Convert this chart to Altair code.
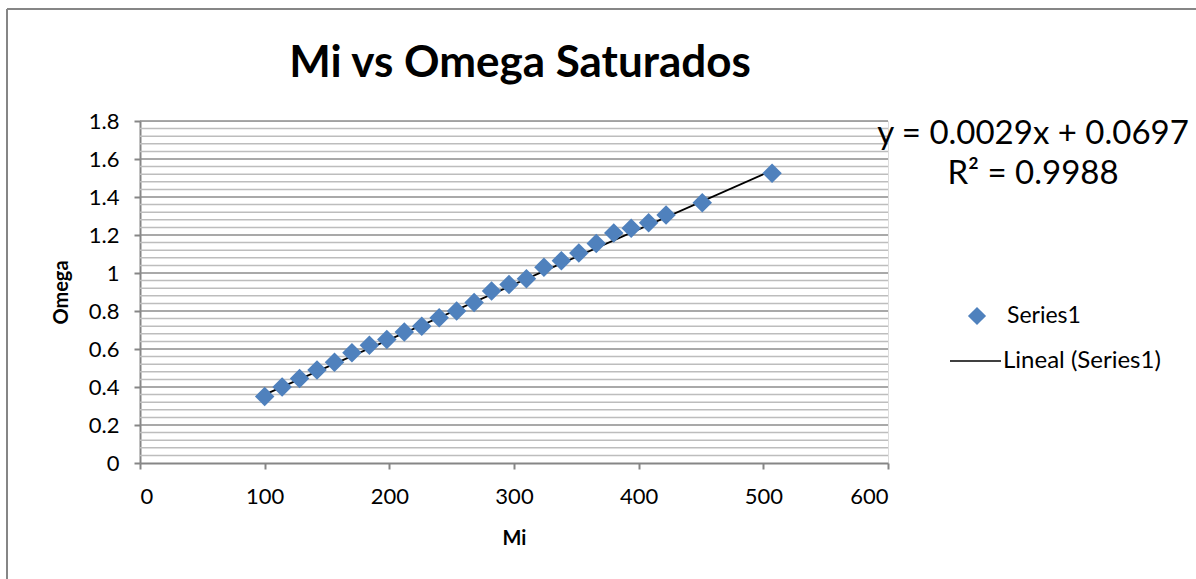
import altair as alt
import pandas as pd

# Saturated Mi vs Omega measurements
mi = [100, 114, 128, 142, 156, 170, 184, 198, 212, 226, 240, 254, 268,
      282, 296, 310, 324, 338, 352, 366, 380, 394, 408, 422, 451, 507]
omega = [0.35, 0.40, 0.445, 0.49, 0.53, 0.58, 0.62, 0.65, 0.69, 0.72, 0.765, 0.80, 0.845,
         0.905, 0.94, 0.97, 1.03, 1.065, 1.105, 1.155, 1.21, 1.235, 1.265, 1.305, 1.37, 1.525]

# Linear trend (Excel "Lineal") and its fit statistics
slope = 0.0029
intercept = 0.0697
r2 = 0.9988

y_major = [0.2, 0.4, 0.6, 0.8, 1.0, 1.2, 1.4, 1.6, 1.8]
y_minor = [round(i * 0.04, 2) for i in range(1, 45) if i % 5 != 0]
x_ticks = [0, 100, 200, 300, 400, 500, 600]
y_ticks = [0, 0.2, 0.4, 0.6, 0.8, 1.0, 1.2, 1.4, 1.6, 1.8]

FONT = "Lato"
BLUE = "#4F81BD"
AXIS_GRAY = "#868686"

points = pd.DataFrame({"Mi": mi, "Omega": omega})
trend = pd.DataFrame({"Mi": [min(mi), max(mi)],
                      "Omega": [slope * min(mi) + intercept, slope * max(mi) + intercept]})

xscale = alt.Scale(domain=[0, 600], nice=False, zero=False)
yscale = alt.Scale(domain=[0, 1.8], nice=False, zero=False)

x_axis = alt.Axis(values=x_ticks, grid=False, tickSize=6, tickColor=AXIS_GRAY,
                  tickWidth=2, domainColor=AXIS_GRAY, domainWidth=2,
                  labelFont=FONT, labelFontSize=22, labelColor="black",
                  labelPadding=17, titleFont=FONT, titleFontSize=20,
                  titleFontWeight="bold", titleColor="black", titlePadding=21)
y_axis = alt.Axis(values=y_ticks, format=".1~f", grid=False, tickSize=6,
                  tickColor=AXIS_GRAY, tickWidth=2, domainColor=AXIS_GRAY,
                  domainWidth=2, labelFont=FONT, labelFontSize=22,
                  labelColor="black", labelPadding=15, titleFont=FONT,
                  titleFontSize=20, titleFontWeight="bold", titleColor="black",
                  titlePadding=17)

minor = alt.Chart(pd.DataFrame({"v": y_minor})).mark_rule(
    color="#bdbdbd", strokeWidth=1.5
).encode(y=alt.Y("v:Q", scale=yscale, axis=y_axis, title="Omega"))

major = alt.Chart(pd.DataFrame({"v": y_major})).mark_rule(
    color="#8c8c8c", strokeWidth=1.5
).encode(y=alt.Y("v:Q", scale=yscale, axis=y_axis, title="Omega"))

pts = alt.Chart(points).mark_point(
    shape="diamond", filled=True, size=380, color=BLUE, opacity=1
).encode(
    x=alt.X("Mi:Q", scale=xscale, title="Mi", axis=x_axis),
    y=alt.Y("Omega:Q", scale=yscale, title="Omega", axis=y_axis),
)

line = alt.Chart(trend).mark_line(color="black", strokeWidth=1.8).encode(
    x=alt.X("Mi:Q", scale=xscale, title="Mi", axis=x_axis),
    y=alt.Y("Omega:Q", scale=yscale, title="Omega", axis=y_axis),
)

# Chart title
title = alt.Chart(pd.DataFrame({"t": ["Mi vs Omega Saturados"]})).mark_text(
    font=FONT, fontSize=44, fontWeight="bold", color="black",
    align="center", baseline="alphabetic"
).encode(text="t:N", x=alt.value(380), y=alt.value(-44))

# Equation and R² annotation
eq = alt.Chart(pd.DataFrame({"t": [f"y = {slope}x + {intercept}"]})).mark_text(
    font=FONT, fontSize=33, color="black", align="center", baseline="alphabetic"
).encode(text="t:N", x=alt.value(893), y=alt.value(23))

r2_text = alt.Chart(pd.DataFrame({"t": [f"R² = {r2}"]})).mark_text(
    font=FONT, fontSize=33, color="black", align="center", baseline="alphabetic"
).encode(text="t:N", x=alt.value(893), y=alt.value(63))

# Legend entries
leg_sym = alt.Chart(pd.DataFrame({"k": ["Series1"]})).mark_point(
    shape="diamond", filled=True, size=330, color=BLUE, opacity=1
).encode(x=alt.value(837), y=alt.value(195))
leg_txt1 = alt.Chart(pd.DataFrame({"t": ["Series1"]})).mark_text(
    font=FONT, fontSize=23, color="black", align="left", baseline="middle"
).encode(text="t:N", x=alt.value(867), y=alt.value(195))
leg_line = alt.Chart(pd.DataFrame({"k": ["Lineal (Series1)"]})).mark_rule(
    color="black", strokeWidth=1.3
).encode(x=alt.value(810), x2=alt.value(861), y=alt.value(240))
leg_txt2 = alt.Chart(pd.DataFrame({"t": ["Lineal (Series1)"]})).mark_text(
    font=FONT, fontSize=24, color="black", align="left", baseline="middle"
).encode(text="t:N", x=alt.value(863), y=alt.value(240))

# Outer chart frame (left and top edges)
frame_top = alt.Chart(pd.DataFrame({"k": [0]})).mark_rule(
    color=AXIS_GRAY, strokeWidth=2
).encode(x=alt.value(-133), x2=alt.value(1100), y=alt.value(-112))
frame_left = alt.Chart(pd.DataFrame({"k": [0]})).mark_rule(
    color=AXIS_GRAY, strokeWidth=2
).encode(x=alt.value(-133), y=alt.value(-112), y2=alt.value(500))

chart = alt.layer(
    minor, major, line, pts, title, eq, r2_text, leg_sym, leg_txt1, leg_line, leg_txt2,
    frame_top, frame_left
).properties(
    width=748, height=342,
    autosize=alt.AutoSizeParams(type="none"),
    padding={"left": 140, "top": 121, "right": 308, "bottom": 116},
).configure_view(stroke=None).configure(background="white")

chart.save("out.html", embed_options={"renderer": "svg", "actions": False})
